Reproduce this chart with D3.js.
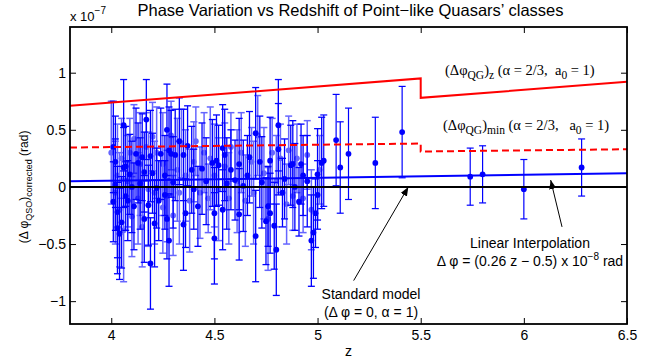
<!DOCTYPE html>
<html>
<head>
<meta charset="utf-8">
<script src="https://cdn.jsdelivr.net/npm/d3@7"></script>
<style>
  body { margin: 0; background: #fff; }
  text { font-family: "Liberation Sans", Arial, sans-serif; }
  .serif { font-family: "Liberation Serif", "Times New Roman", serif; }
</style>
</head>
<body>
<div id="chart"></div>
<script>
// tick values and labels
const zTicks = [4, 4.5, 5, 5.5, 6, 6.5];
const vTicks = [-1, -0.5, 0, 0.5, 1];
const vTickLabels = ["\u22121", "\u22120.5", "0", "0.5", "1"];

// quasar points [z, dphi (x1e-7 rad), error] - solid blue set
const qsoDark = [
  [4.01,-0.13,0.35],[4.03,-0.22,0.4],[4.03,-0.36,0.4],[4.04,-0.41,0.4],[4.05,-0.31,0.4],
  [4.07,-0.08,0.3],[4.08,-0.12,0.35],[4.11,-0.17,0.38],[4.16,-0.28,0.38],[4.18,-0.16,0.35],
  [4.19,-0.67,0.4],[4.21,-0.32,0.38],[4.23,-0.12,0.35],[4.26,-0.07,0.3],[4.28,-0.47,0.4],
  [4.27,-0.28,0.35],[4.35,-0.33,0.4],[4.36,-0.23,0.3],[4.42,-0.17,0.35],[4.50,-0.45,0.4],
  [4.50,-0.23,0.4],[4.54,-0.2,0.35],[4.62,-0.24,0.4],[4.70,-0.43,0.4],[4.75,-0.3,0.38],
  [4.76,-0.17,0.35],[4.77,-0.23,0.35],[4.80,-0.55,0.4],[4.79,-0.34,0.38],[4.83,-0.05,0.3],
  [4.91,-0.13,0.3],[4.97,-0.47,0.4],[4.98,-0.40,0.4],[4.99,-0.23,0.3],[5.0,-0.07,0.3],
  [4.01,0.35,0.4],[4.02,0.22,0.4],[4.06,0.54,0.4],[4.06,0.17,0.35],[4.07,0.18,0.35],
  [4.09,0.11,0.35],[4.12,0.29,0.4],[4.13,0.21,0.35],[4.15,0.26,0.38],[4.16,0.13,0.35],
  [4.17,0.59,0.35],[4.19,0.27,0.4],[4.20,0.12,0.35],[4.24,0.29,0.4],[4.26,0.10,0.35],
  [4.27,0.50,0.4],[4.28,0.32,0.38],[4.29,0.29,0.38],[4.31,0.28,0.4],[4.33,0.40,0.38],
  [4.35,0.28,0.4],[4.37,0.36,0.35],[4.39,0.15,0.38],[4.44,0.16,0.4],[4.49,0.21,0.38],
  [4.51,0.23,0.4],[4.52,0.19,0.35],[4.54,0.34,0.38],[4.55,0.28,0.4],[4.58,0.15,0.35],
  [4.62,0.20,0.4],[4.66,0.10,0.35],[4.67,0.26,0.4],[4.70,0.47,0.4],[4.72,0.22,0.4],
  [4.77,0.23,0.38],[4.81,0.54,0.4],[4.81,0.33,0.4],[4.87,0.19,0.35],[4.88,0.20,0.38],
  [4.92,0.20,0.35],[4.93,0.10,0.35],[5.0,0.11,0.4],[5.02,0.21,0.4],
  [4.02,0.02,0.4],[4.10,0.0,0.4],[4.14,0.03,0.4],[4.22,-0.01,0.35],[4.30,0.04,0.4],
  [4.40,-0.02,0.35],[4.46,0.05,0.38],[4.56,0.03,0.4],[4.60,0.06,0.35],[4.64,0.01,0.4],
  [4.73,0.04,0.4],[4.84,0.07,0.35],[4.89,0.0,0.38],[4.95,0.05,0.4]
];

// lighter (semi transparent) set
const qsoLight = [
  [4.0,0.3,0.45],[4.02,-0.05,0.45],[4.03,0.1,0.45],[4.04,-0.2,0.5],[4.05,0.25,0.35],
  [4.06,-0.38,0.45],[4.08,0.05,0.4],[4.09,0.3,0.3],[4.10,-0.26,0.35],[4.11,0.42,0.3],
  [4.13,-0.1,0.4],[4.14,0.2,0.45],[4.15,-0.35,0.35],[4.17,0.35,0.3],[4.18,-0.02,0.5],
  [4.20,0.44,0.3],[4.21,-0.05,0.45],[4.22,0.3,0.4],[4.25,-0.18,0.4],[4.25,0.2,0.45],
  [4.27,-0.08,0.4],[4.29,0.45,0.3],[4.30,-0.25,0.35],[4.32,0.15,0.45],[4.33,-0.05,0.45],
  [4.34,0.38,0.3],[4.36,0.1,0.4],[4.38,-0.12,0.45],[4.40,0.22,0.35],[4.41,0.4,0.3],
  [4.43,-0.05,0.4],[4.45,0.3,0.35],[4.47,-0.1,0.3],[4.48,0.25,0.45],[4.50,0.1,0.45],
  [4.52,-0.02,0.45],[4.55,0.18,0.38],[4.57,-0.1,0.4],[4.58,0.35,0.3],[4.61,0.05,0.45],
  [4.63,0.3,0.35],[4.65,-0.12,0.4],[4.68,0.22,0.3],[4.69,-0.05,0.45],[4.71,0.45,0.35],
  [4.74,0.12,0.4],[4.76,-0.28,0.45],[4.78,0.3,0.3],[4.80,0.05,0.4],[4.82,0.25,0.3],
  [4.85,-0.15,0.35],[4.86,0.32,0.3],[4.88,-0.08,0.3],[4.90,0.25,0.3],[4.93,-0.1,0.3],
  [4.95,0.28,0.3],[4.97,-0.2,0.35],[5.01,0.15,0.3]
];

// sparse high-z points
const qsoHighZ = [
  [5.03,0.23,0.40],[5.09,0.41,0.40],[5.11,0.17,0.40],[5.15,0.29,0.40],[5.28,0.21,0.40],
  [5.41,0.48,0.40],[5.74,0.09,0.25],[5.80,0.11,0.25],[6.00,-0.02,0.26],[6.28,0.17,0.25]
];

// model curves
const qgZ = [[3.8,0.71],[5.5,0.95],[5.5,0.78],[6.5,0.92]];
const qgMin = [[3.8,0.345],[5.5,0.38],[5.5,0.31],[6.5,0.33]];
const linFit = [[3.8,0.0488],[6.5,0.119]];
const stdModel = [[3.8,0],[6.5,0]];

const W = 664, H = 364;
const margin = {top: 27, right: 37, bottom: 40, left: 70};

const svg = d3.select("#chart").append("svg")
  .attr("width", W).attr("height", H);

const x = d3.scaleLinear().domain([3.8, 6.5]).range([margin.left, W - margin.right]);
const y = d3.scaleLinear().domain([-1.2, 1.4]).range([H - margin.bottom, margin.top]);

const defs = svg.append("defs");
defs.append("clipPath").attr("id", "clip").append("rect")
  .attr("x", x(3.8)).attr("y", y(1.4))
  .attr("width", x(6.5) - x(3.8)).attr("height", y(-1.2) - y(1.4));
defs.append("marker").attr("id", "arrow")
  .attr("viewBox", "0 0 10 10").attr("refX", 10).attr("refY", 5)
  .attr("markerWidth", 9).attr("markerHeight", 9).attr("markerUnits", "userSpaceOnUse")
  .attr("orient", "auto")
  .append("path").attr("d", "M0,1 L10,5 L0,9 Z").attr("fill", "#000");

const plot = svg.append("g").attr("clip-path", "url(#clip)");

// error bars + points
function drawSet(data, opacity, sw) {
  const g = plot.append("g").attr("opacity", opacity);
  const bars = g.selectAll("g.eb").data(data).join("g").attr("class", "eb");
  bars.append("line")
    .attr("x1", d => x(d[0])).attr("x2", d => x(d[0]))
    .attr("y1", d => y(d[1] - d[2])).attr("y2", d => y(d[1] + d[2]))
    .attr("stroke", "#0000ff").attr("stroke-width", sw);
  [-1, 1].forEach(s => {
    bars.append("line")
      .attr("x1", d => x(d[0]) - 3.5).attr("x2", d => x(d[0]) + 3.5)
      .attr("y1", d => y(d[1] + s * d[2])).attr("y2", d => y(d[1] + s * d[2]))
      .attr("stroke", "#0000ff").attr("stroke-width", sw);
  });
  g.selectAll("circle").data(data).join("circle")
    .attr("cx", d => x(d[0])).attr("cy", d => y(d[1]))
    .attr("r", 2.9).attr("fill", "#0000ff");
}
drawSet(qsoLight, 0.6, 1.5);
drawSet(qsoDark, 1, 1.3);
drawSet(qsoHighZ, 1, 1.2);

const line = d3.line().x(d => x(d[0])).y(d => y(d[1]));
plot.append("path").datum(qgZ).attr("d", line)
  .attr("fill", "none").attr("stroke", "#ff0000").attr("stroke-width", 2);
plot.append("path").datum(qgMin).attr("d", line)
  .attr("fill", "none").attr("stroke", "#ff0000").attr("stroke-width", 2)
  .attr("stroke-dasharray", "7,4");
plot.append("path").datum(linFit).attr("d", line)
  .attr("fill", "none").attr("stroke", "#0000ff").attr("stroke-width", 2);
plot.append("path").datum(stdModel).attr("d", line)
  .attr("fill", "none").attr("stroke", "#000").attr("stroke-width", 2);

// axes, MATLAB style ticks pointing inward on all four sides
const fs = 14;
svg.append("g")
  .attr("transform", `translate(0,${y(-1.2)})`)
  .call(d3.axisBottom(x).tickValues(zTicks).tickSize(-6).tickPadding(6).tickFormat(d3.format("")));
svg.append("g")
  .attr("transform", `translate(${x(3.8)},0)`)
  .call(d3.axisLeft(y).tickValues(vTicks).tickSize(-6).tickPadding(4).tickFormat((d, i) => vTickLabels[i]));
svg.append("g").attr("transform", `translate(0,${y(1.4)})`)
  .call(d3.axisTop(x).tickValues(zTicks).tickSize(-6).tickFormat(""));
svg.append("g").attr("transform", `translate(${x(6.5)},0)`)
  .call(d3.axisRight(y).tickValues(vTicks).tickSize(-6).tickFormat(""));
svg.selectAll(".domain").remove();
svg.selectAll(".tick line").attr("stroke", "#000").attr("stroke-width", 1);
svg.selectAll(".tick text").attr("font-size", fs)
  .attr("font-family", "Liberation Sans, Arial, sans-serif").attr("fill", "#000");

svg.append("rect")
  .attr("x", x(3.8)).attr("y", y(1.4))
  .attr("width", x(6.5) - x(3.8)).attr("height", y(-1.2) - y(1.4))
  .attr("fill", "none").attr("stroke", "#000").attr("stroke-width", 1.8);

// title and axis labels
svg.append("text").attr("x", (x(3.8) + x(6.5)) / 2 + 2).attr("y", 16)
  .attr("text-anchor", "middle").attr("font-size", 16.5)
  .text("Phase Variation vs Redshift of Point\u2212like Quasars\u2019 classes");

const exp = svg.append("text").attr("x", x(3.8)).attr("y", 21).attr("font-size", 13);
exp.append("tspan").text("x 10");
exp.append("tspan").attr("dy", -7).attr("font-size", 10).text("\u22127");

svg.append("text").attr("x", (x(3.8) + x(6.5)) / 2).attr("y", 356)
  .attr("text-anchor", "middle").attr("font-size", 14).text("z");

const yl = svg.append("text")
  .attr("transform", `translate(28,${y(0)}) rotate(-90)`)
  .attr("text-anchor", "middle").attr("font-size", 12);
yl.append("tspan").text("(\u0394 \u03c6");
yl.append("tspan").attr("dy", 4).attr("font-size", 9).text("QSO");
yl.append("tspan").attr("dy", -4).text(")");
yl.append("tspan").attr("dy", 4).attr("font-size", 9).text("corrected");
yl.append("tspan").attr("dy", -4).text(" (rad)");

// model labels (serif)
function qgLabel(px, py, sub2) {
  const t = svg.append("text").attr("class", "serif").attr("x", px).attr("y", py)
    .attr("font-size", 14.5).attr("xml:space", "preserve");
  t.append("tspan").text("(\u0394\u03c6");
  t.append("tspan").attr("dy", 4).attr("font-size", 11.5).text("QG");
  t.append("tspan").attr("dy", -4).text(")");
  t.append("tspan").attr("dy", 4).attr("font-size", 11.5).text(sub2);
  t.append("tspan").attr("dy", -4).text(sub2 === "z" ? " (\u03b1 = 2/3,  a" : " (\u03b1 = 2/3,   a");
  t.append("tspan").attr("dy", 4).attr("font-size", 11.5).text("0");
  t.append("tspan").attr("dy", -4).text(" = 1)");
}
qgLabel(445, 75, "z");
qgLabel(443, 130, "min");

// annotations
svg.append("text").attr("x", 530).attr("y", 248).attr("text-anchor", "middle")
  .attr("font-size", 14).text("Linear Interpolation");
const li = svg.append("text").attr("x", 530).attr("y", 266).attr("text-anchor", "middle")
  .attr("font-size", 14);
li.append("tspan").text("\u0394 \u03c6 = (0.26 z \u2212 0.5) x 10");
li.append("tspan").attr("dy", -6).attr("font-size", 10).text("\u22128");
li.append("tspan").attr("dy", 6).text(" rad");

svg.append("text").attr("x", 371).attr("y", 299).attr("text-anchor", "middle")
  .attr("font-size", 14).text("Standard model");
svg.append("text").attr("x", 371).attr("y", 317).attr("text-anchor", "middle")
  .attr("font-size", 14).text("(\u0394 \u03c6 = 0, \u03b1 = 1)");

svg.append("line")
  .attr("x1", x(5.175)).attr("y1", y(-0.82)).attr("x2", x(5.44)).attr("y2", y(0))
  .attr("stroke", "#000").attr("stroke-width", 1).attr("marker-end", "url(#arrow)");
svg.append("line")
  .attr("x1", x(6.185)).attr("y1", y(-0.35)).attr("x2", x(6.13)).attr("y2", y(0.06))
  .attr("stroke", "#000").attr("stroke-width", 1).attr("marker-end", "url(#arrow)");
</script>
</body>
</html>
